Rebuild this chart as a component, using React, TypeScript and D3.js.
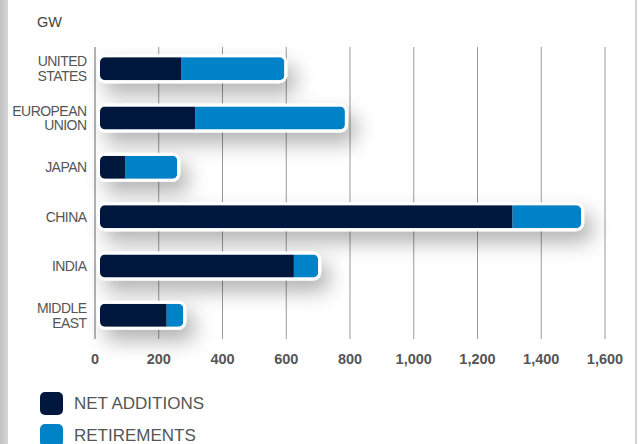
import React from "react";
import * as d3 from "d3";

const categories = ["UNITED STATES", "EUROPEAN UNION", "JAPAN", "CHINA", "INDIA", "MIDDLE EAST"];
const categoryLines = [["UNITED", "STATES"], ["EUROPEAN", "UNION"], ["JAPAN"], ["CHINA"], ["INDIA"], ["MIDDLE", "EAST"]];
const netAdditions = [270, 314, 94, 1310, 624, 225];
const retirements = [324, 470, 164, 215, 76, 52];
const xTicks = [0, 200, 400, 600, 800, 1000, 1200, 1400, 1600];
const seriesNames = ["NET ADDITIONS", "RETIREMENTS"];
const seriesColors = ["#00173D", "#0082C8"];
const unitLabel = "GW";

const W = 638;
const H = 444;

export default function App() {
  const x = d3.scaleLinear().domain([0, 1600]).range([95, 605]);
  const y = d3.scaleBand<string>().domain(categories).range([44, 340]).paddingInner(0).paddingOuter(0);
  const barH = 23;
  const fmt = d3.format(",");
  const labelFont = "'Liberation Sans', Arial, Helvetica, sans-serif";

  return (
    <svg width={W} height={H} style={{ position: "fixed", left: 0, top: 0, background: "#fff" }} fontFamily={labelFont}>
      <defs>
        <filter id="shadow" x="-30%" y="-150%" width="170%" height="500%">
          <feDropShadow dx="8" dy="11" stdDeviation="10" floodColor="#000" floodOpacity="0.3" />
        </filter>
        <linearGradient id="leftStrip" x1="0" x2="1" y1="0" y2="0">
          <stop offset="0" stopColor="#c2c2c2" />
          <stop offset="1" stopColor="#d6d6d6" />
        </linearGradient>
        {categories.map((c, i) => {
          const cy = (y(c) as number) + y.bandwidth() / 2;
          const x0 = x(0) + 5;
          const x1 = x(netAdditions[i] + retirements[i]);
          return (
            <clipPath id={`clip${i}`} key={c}>
              <rect x={x0} y={cy - barH / 2} width={x1 - x0} height={barH} rx={5} ry={5} />
            </clipPath>
          );
        })}
      </defs>
      <rect x={0} y={0} width={W} height={H} fill="#fff" />
      <rect x={0} y={0} width={8} height={H} fill="url(#leftStrip)" />
      <rect x={635} y={0} width={2} height={H} fill="#d4d4d4" />

      <text x={37} y={27} fontSize={14.5} fill="#444">{unitLabel}</text>

      {/* grid */}
      {xTicks.map((t) => (
        <line key={t} x1={x(t)} x2={x(t)} y1={47} y2={339} stroke={t === 0 ? "#666" : "#9a9a9a"} strokeWidth={1} />
      ))}

      {/* bars */}
      {categories.map((c, i) => {
        const cy = (y(c) as number) + y.bandwidth() / 2;
        const x0 = x(0) + 5;
        const xm = x(netAdditions[i]);
        const x1 = x(netAdditions[i] + retirements[i]);
        return (
          <g key={c}>
            <rect x={x0 - 3} y={cy - barH / 2 - 3} width={x1 - x0 + 6} height={barH + 6} rx={8} ry={8} fill="#fff" filter="url(#shadow)" />
            <g clipPath={`url(#clip${i})`}>
              <rect x={x0} y={cy - barH / 2} width={xm - x0} height={barH} fill={seriesColors[0]} />
              <rect x={xm} y={cy - barH / 2} width={x1 - xm} height={barH} fill={seriesColors[1]} />
            </g>
          </g>
        );
      })}

      {/* category labels */}
      {categories.map((c, i) => {
        const cy = (y(c) as number) + y.bandwidth() / 2;
        const lines = categoryLines[i];
        const lh = 14.5;
        const start = cy - ((lines.length - 1) * lh) / 2;
        return (
          <text key={c} x={86} textAnchor="end" fontSize={14} letterSpacing={-0.55} fill="#555">
            {lines.map((l, j) => (
              <tspan key={j} x={86.5} y={start + j * lh + 5}>{l}</tspan>
            ))}
          </text>
        );
      })}

      {/* x tick labels */}
      {xTicks.map((t) => (
        <text key={t} x={x(t)} y={364} textAnchor="middle" fontSize={14.5} fontWeight="bold" fill="#555">
          {fmt(t)}
        </text>
      ))}

      {/* legend */}
      {seriesNames.map((s, i) => (
        <g key={s}>
          <rect x={40} y={392 + i * 32} width={23} height={23} rx={5} ry={5} fill={seriesColors[i]} />
          <text x={74} y={409 + i * 32} fontSize={17} fill="#555">{s}</text>
        </g>
      ))}
    </svg>
  );
}
